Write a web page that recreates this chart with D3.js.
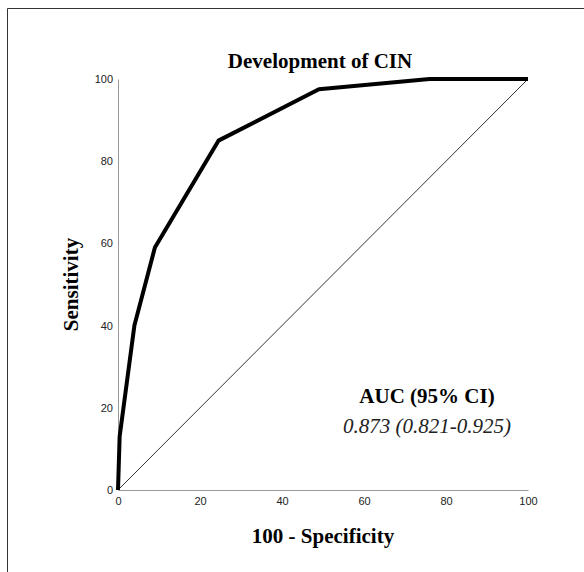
<!DOCTYPE html>
<html lang="en">
  <head>
    <title>Development of CIN</title>
    <script src="https://cdn.jsdelivr.net/npm/d3@7"></script>
    <style>
      body { margin: 0; background-color: white; }
    </style>
  </head>

  <body>
    <div id="container"></div>

<script>
    // ROC curve points (100 - specificity, sensitivity)
    const fpr = [0, 0.4, 2, 4, 9, 24.5, 49, 76, 100];
    const tpr = [0, 13, 25, 40, 59, 85, 97.5, 100, 100];
    const tickValues = [0, 20, 40, 60, 80, 100];
    const chartTitle = "Development of CIN";
    const aucLabel = "AUC (95% CI)";
    const aucValue = "0.873 (0.821-0.925)";

    const W = 584, H = 572;
    const margin = {top: 79, right: 56, bottom: 82, left: 118};
    const width = W - margin.left - margin.right;
    const height = H - margin.top - margin.bottom;

    const root = d3.select("#container").append("svg")
      .attr("width", W)
      .attr("height", H);

    root.append("rect").attr("width", W).attr("height", H).attr("fill", "white");

    // frame (left and top edges)
    root.append("path")
      .attr("d", `M7.5,${H} L7.5,8.5 L${W},8.5`)
      .attr("fill", "none")
      .attr("stroke", "#333")
      .attr("stroke-width", 1);

    const svg = root.append("g")
      .attr("transform", `translate(${margin.left}, ${margin.top})`);

    const x = d3.scaleLinear().domain([0, 100]).range([0, width]);
    const y = d3.scaleLinear().domain([0, 100]).range([height, 0]);

    const tickFont = "11px 'Liberation Sans Narrow', 'Liberation Sans', Arial, sans-serif";

    const xAxis = svg.append("g")
      .attr("transform", `translate(0, ${height})`)
      .call(d3.axisBottom(x).tickValues(tickValues).tickSize(0).tickPadding(7));
    xAxis.select(".domain").attr("stroke", "#999");
    xAxis.selectAll("text").style("font", tickFont).attr("fill", "#222");

    const yAxis = svg.append("g")
      .call(d3.axisLeft(y).tickValues(tickValues).tickSize(0).tickPadding(5));
    yAxis.select(".domain").attr("stroke", "#999");
    yAxis.selectAll("text").style("font", tickFont).attr("fill", "#222");

    // reference diagonal
    svg.append("line")
      .attr("x1", x(0)).attr("y1", y(0))
      .attr("x2", x(100)).attr("y2", y(100))
      .attr("stroke", "#333")
      .attr("stroke-width", 1);

    const line = d3.line()
      .x((d, i) => x(fpr[i]))
      .y((d, i) => y(tpr[i]));

    svg.append("path")
      .datum(fpr)
      .attr("d", line)
      .attr("fill", "none")
      .attr("stroke", "black")
      .attr("stroke-width", 4)
      .attr("stroke-linejoin", "round");

    const serif = "'Liberation Serif', 'Times New Roman', serif";

    root.append("text")
      .attr("x", 320).attr("y", 68)
      .attr("text-anchor", "middle")
      .style("font", `bold 21px ${serif}`)
      .text(chartTitle);

    root.append("text")
      .attr("x", 323).attr("y", 543)
      .attr("text-anchor", "middle")
      .style("font", `bold 21px ${serif}`)
      .text("100 - Specificity");

    root.append("text")
      .attr("transform", `translate(78, ${margin.top + height / 2}) rotate(-90)`)
      .attr("text-anchor", "middle")
      .style("font", `bold 21px ${serif}`)
      .text("Sensitivity");

    root.append("text")
      .attr("x", 427).attr("y", 403)
      .attr("text-anchor", "middle")
      .style("font", `bold 21px ${serif}`)
      .text(aucLabel);

    root.append("text")
      .attr("x", 427).attr("y", 433)
      .attr("text-anchor", "middle")
      .style("font", `italic 21px ${serif}`)
      .attr("fill", "#222")
      .text(aucValue);
</script>
  </body>
</html>
